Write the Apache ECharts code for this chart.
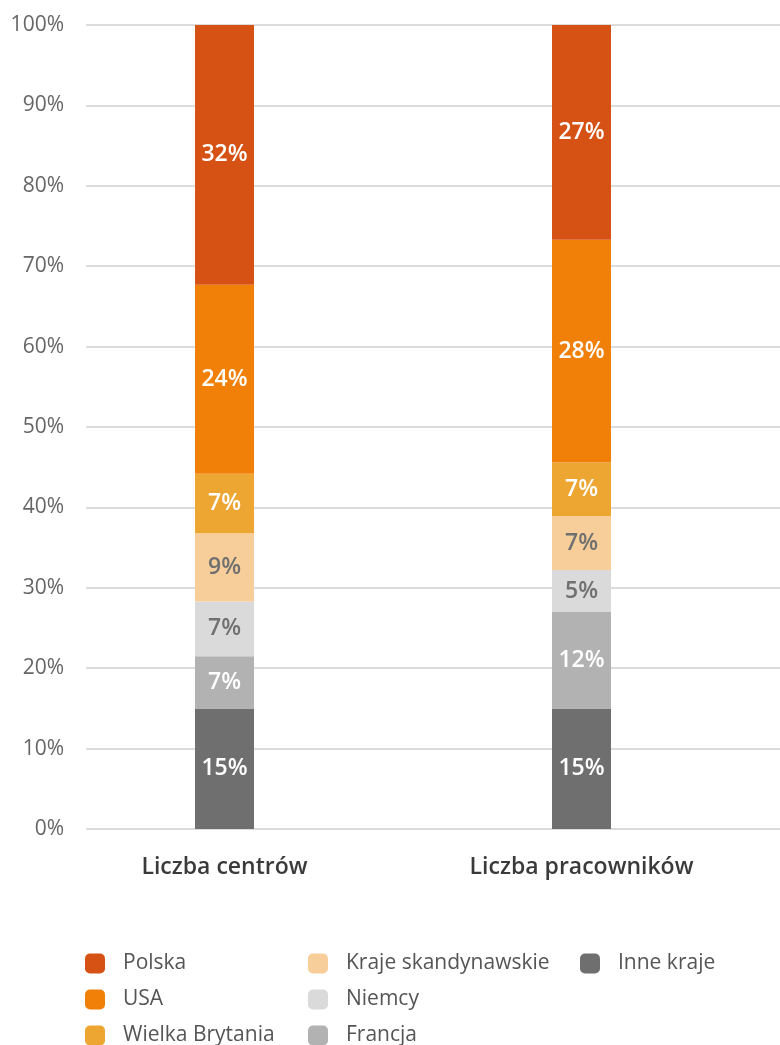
<!DOCTYPE html>
<html>
<head>
<meta charset="utf-8">
<script src="https://cdn.jsdelivr.net/npm/echarts@6/dist/echarts.min.js"></script>
<style>
html, body { margin: 0; padding: 0; background: #fff; }
#chart { width: 780px; height: 1045px; }
</style>
</head>
<body>
<div id="chart"></div>
<script>
// dane (udział w %)
var categories = ['Liczba centrów', 'Liczba pracowników'];
var inneKraje = [15.0, 15.0];
var francja = [6.5, 12.0];
var niemcy = [6.8, 5.2];
var krajeSkand = [8.5, 6.7];
var wielkaBrytania = [7.4, 6.7];
var usa = [23.5, 27.7];
var polska = [32.3, 26.7];
var yTicks = [0, 10, 20, 30, 40, 50, 60, 70, 80, 90, 100];

var font = '"Open Sans", "DejaVu Sans", sans-serif';

var chart = echarts.init(document.getElementById('chart'));

function bar(name, data, color, labelColor) {
    return {
        name: name,
        type: 'bar',
        stack: 'total',
        xAxisIndex: 0,
        yAxisIndex: 0,
        barWidth: 59,
        data: data,
        itemStyle: { color: color },
        label: {
            show: true,
            position: 'inside',
            color: labelColor,
            fontFamily: font,
            fontSize: 23,
            fontWeight: 600,
            formatter: function (p) { return Math.round(p.value) + '%'; }
        }
    };
}

var series = [
    bar('Inne kraje', inneKraje, '#6f6f6f', '#fff'),
    bar('Francja', francja, '#b2b2b2', '#fff'),
    bar('Niemcy', niemcy, '#dadada', '#707070'),
    bar('Kraje skandynawskie', krajeSkand, '#f7ce9a', '#707070'),
    bar('Wielka Brytania', wielkaBrytania, '#eea633', '#fff'),
    bar('USA', usa, '#f08008', '#fff'),
    bar('Polska', polska, '#d65214', '#fff')
];

function legend(names, left) {
    return {
        orient: 'vertical',
        left: left,
        top: 953,
        height: 200,
        padding: 0,
        itemWidth: 20,
        itemHeight: 20,
        itemGap: 15,
        icon: 'roundRect',
        selectedMode: false,
        textStyle: { color: '#555', fontFamily: font, fontSize: 21, lineHeight: 20, padding: [0, 0, 0, 13] },
        data: names
    };
}

var option = {
    backgroundColor: '#fff',
    animation: false,
    grid: [
        { left: 46, right: 20, top: 25, bottom: 216 },
        { left: 86, right: 0, top: 25, bottom: 216 }
    ],
    legend: [
        legend(['Polska', 'USA', 'Wielka Brytania'], 85),
        legend(['Kraje skandynawskie', 'Niemcy', 'Francja'], 308),
        legend(['Inne kraje'], 580)
    ],
    xAxis: [
        {
            type: 'category',
            gridIndex: 0,
            data: categories,
            axisLine: { show: false },
            axisTick: { show: false },
            axisLabel: { margin: 27, color: '#3a3a3a', fontFamily: font, fontSize: 23, fontWeight: 600 }
        },
        {
            type: 'category',
            gridIndex: 1,
            data: categories,
            show: false
        }
    ],
    yAxis: [
        {
            type: 'value',
            gridIndex: 0,
            min: 0,
            max: 100,
            interval: 10,
            show: false,
            splitLine: { show: false }
        },
        {
            type: 'value',
            gridIndex: 1,
            min: yTicks[0],
            max: yTicks[yTicks.length - 1],
            interval: yTicks[1] - yTicks[0],
            axisLine: { show: false },
            axisTick: { show: false },
            axisLabel: {
                margin: 22,
                color: '#666',
                fontFamily: font,
                fontSize: 21,
                formatter: '{value}%'
            },
            splitLine: { lineStyle: { color: '#dcdcdc', width: 2 } }
        }
    ],
    series: series
};
chart.setOption(option);
</script>
</body>
</html>
